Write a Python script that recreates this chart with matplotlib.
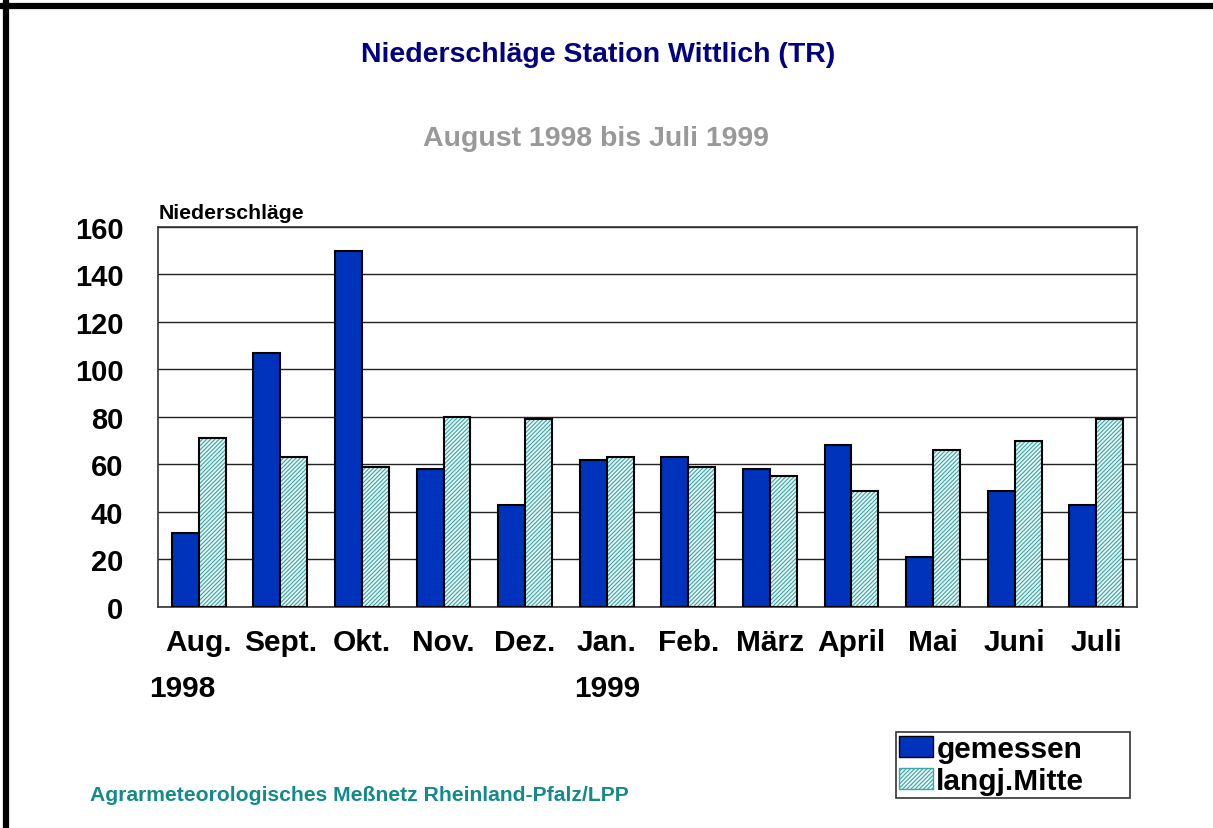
import numpy as np
import matplotlib
matplotlib.use("Agg")
import matplotlib.pyplot as plt
from matplotlib.patches import Patch

plt.rcParams['font.family'] = ['Liberation Sans', 'DejaVu Sans']
plt.rcParams['hatch.linewidth'] = 0.8

# data
months = ["Aug.", "Sept.", "Okt.", "Nov.", "Dez.", "Jan.", "Feb.", "März", "April", "Mai", "Juni", "Juli"]
gemessen = [31, 107, 150, 58, 43, 62, 63, 58, 68, 21, 49, 43]
langj_mitte = [71, 63, 59, 80, 79, 63, 59, 55, 49, 66, 70, 79]
year_labels = ["1998", "1999"]
year_pos = [0, 5]
yticks = [0, 20, 40, 60, 80, 100, 120, 140, 160]

fig = plt.figure(figsize=(12.13, 8.29), dpi=100)
ax = fig.add_axes([0.1303, 0.2666, 0.807, 0.4584])

x = np.arange(len(months))
w = 0.33

ax.bar(x - w / 2, gemessen, w, color="#0033BB", edgecolor="black", linewidth=1.5, zorder=3)
# hatched bars: hatch layer in teal, outline in black on top
ax.bar(x + w / 2, langj_mitte, w, color="#E6F6F6", edgecolor="#3FA5A5", hatch="////////",
       linewidth=0, zorder=3)
ax.bar(x + w / 2, langj_mitte, w, fill=False, edgecolor="black", linewidth=1.5, zorder=4)

ax.set_xlim(-0.5, len(months) - 0.5)
ax.set_ylim(0, 160)
ax.set_yticks(yticks)
ax.set_yticklabels([str(v) for v in yticks], fontsize=21, fontweight="bold")
ax.set_xticks(x)
ax.set_xticklabels(months, fontsize=21.5, fontweight="bold")
ax.tick_params(axis="y", length=0, pad=25)
ax.tick_params(axis="x", length=0, pad=15)
ax.yaxis.grid(True, color="#222222", linewidth=1.0, zorder=0)
ax.set_axisbelow(True)
for s in ax.spines.values():
    s.set_linewidth(1.2)
    s.set_color("#333333")

# year labels below the months (1998 sits a bit left of Aug.)
for label, idx, dx in zip(year_labels, year_pos, [-0.2, 0.0]):
    ax.annotate(label, xy=(idx + dx, 0), xycoords=("data", "axes fraction"), xytext=(0, -58),
                textcoords="offset points", ha="center", va="center", fontsize=21.5, fontweight="bold")

fig.text(0.4934, 0.934, "Niederschläge Station Wittlich (TR)", ha="center", va="center",
         fontsize=20.5, fontweight="bold", color="#000080")
fig.text(0.4915, 0.832, "August 1998 bis Juli 1999", ha="center", va="center",
         fontsize=20.5, fontweight="bold", color="#999999")
fig.text(0.131, 0.743, "Niederschläge", ha="left", va="center", fontsize=15.3, fontweight="bold")
fig.text(0.074, 0.041, "Agrarmeteorologisches Meßnetz Rheinland-Pfalz/LPP", ha="left", va="center",
         fontsize=15.2, fontweight="bold", color="#148A8A")

handles = [Patch(facecolor="#0033BB", edgecolor="black", label="gemessen"),
           Patch(facecolor="#E6F6F6", edgecolor="#3FA5A5", hatch="////////", label="langj.Mitte")]
leg = fig.legend(handles=handles, loc="lower left", mode="expand",
                 bbox_to_anchor=(896 / 1213, 1 - 799 / 829, 234 / 1213, 78 / 829), frameon=True,
                 fancybox=False, prop={"size": 21.5, "weight": "bold"}, handlelength=1.15,
                 handleheight=0.7, handletextpad=0.1, labelspacing=0.15, borderpad=0.1,
                 borderaxespad=0)
leg.get_frame().set_edgecolor("black")
leg.get_frame().set_linewidth(1.2)

# page border (top and left)
fig.add_artist(plt.Line2D([0, 1], [0.9915, 0.9915], transform=fig.transFigure, color="black", linewidth=4.5))
fig.add_artist(plt.Line2D([0.005, 0.005], [0, 0.995], transform=fig.transFigure, color="black", linewidth=4.5))

fig.savefig("out.png", dpi=100)
